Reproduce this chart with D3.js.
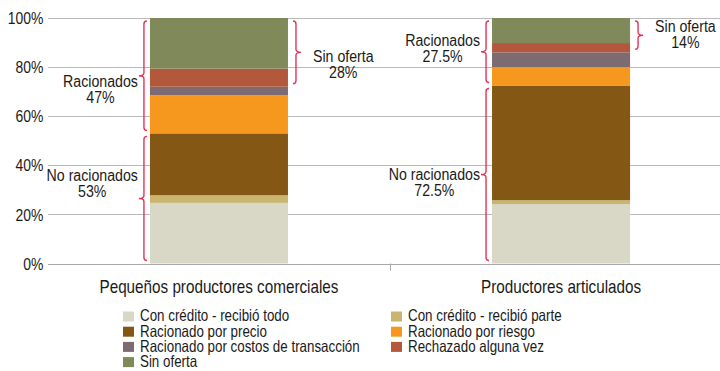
<!DOCTYPE html>
<html>
<head>
<meta charset="utf-8">
<script src="https://cdn.jsdelivr.net/npm/d3@7"></script>
<style>
  html, body { margin: 0; padding: 0; background: #fff; }
  svg { display: block; font-family: "Liberation Sans", Arial, sans-serif; }
  text { fill: #1a1a1a; }
</style>
</head>
<body>
<svg id="chart" width="720" height="371"></svg>
<script>
// Categories (bars)
const categories = ["Pequeños productores comerciales", "Productores articulados"];

// Stack series, bottom to top
const seriesNames = [
  "Con crédito - recibió todo",
  "Con crédito - recibió parte",
  "Racionado por precio",
  "Racionado por riesgo",
  "Racionado por costos de transacción",
  "Rechazado alguna vez",
  "Sin oferta"
];
const seriesColors = ["#d9d8c6", "#c9b56f", "#845715", "#f7981e", "#7e6b72", "#b4583b", "#80895a"];

// Percent shares per category, in series order
const valuesPequenos   = [24.7, 3.1, 25.2, 15.6, 3.4, 7.4, 20.6];
const valuesArticulados = [24.2, 1.6, 46.7, 7.5, 6.0, 3.8, 10.2];

// Y axis ticks
const yTicks = [0, 20, 40, 60, 80, 100];

// Bracket groups: label, first and last series index covered
const groupNames = ["No racionados", "Racionados", "Sin oferta"];
const groupFrom  = [0, 3, 5];
const groupTo    = [2, 6, 6];
const groupSide  = ["left", "left", "right"];

// Label offsets (px) of each bracket label relative to the bracket tip, per category
const labelDy = [
  [-17.5, 11, 9.5],
  [5.5, -6, -3]
];

const values = [valuesPequenos, valuesArticulados];

const svg = d3.select("#chart");
const W = 720;
const margin = { left: 48, top: 18, bottom: 263.5 };
const NARROW = 0.82;   // horizontal squeeze for a condensed sans look

// Text helper: condensed text placed at (x, y) with the given anchor
function label(parent, x, y, str, size, anchor) {
  const g = parent.append("g").attr("transform", `translate(${x},${y}) scale(${NARROW},1)`);
  const t = g.append("text").attr("x", 0).attr("y", 0)
    .attr("text-anchor", anchor || "start")
    .style("font-size", size + "px").text(str);
  return { g, t };
}

const y = d3.scaleLinear().domain([0, 100]).range([margin.bottom, margin.top]);
const x = d3.scaleBand().domain(categories).range([48, 732])
  .paddingInner(0.5965).paddingOuter(0.298);

// Gridlines
svg.append("g").selectAll("line").data(yTicks).join("line")
  .attr("x1", margin.left).attr("x2", W)
  .attr("y1", d => Math.round(y(d)) + 0.5).attr("y2", d => Math.round(y(d)) + 0.5)
  .attr("stroke", "#b9b9b9").attr("stroke-width", 1);

// Y tick labels
const yl = svg.append("g");
yTicks.forEach(d => label(yl, 43.5, y(d) + 6.1, d + "%", 17, "end"));

// Stack the rows
const rows = categories.map((c, i) => {
  const r = { category: c };
  seriesNames.forEach((s, j) => r[s] = values[i][j]);
  return r;
});
const stacked = d3.stack().keys(seriesNames)(rows);

svg.append("g").selectAll("g").data(stacked).join("g")
  .attr("fill", (d, i) => seriesColors[i])
  .selectAll("rect").data(d => d).join("rect")
  .attr("x", d => x(d.data.category))
  .attr("width", x.bandwidth())
  .attr("y", d => y(d[1]))
  .attr("height", d => y(d[0]) - y(d[1]));

// Category axis: baseline, separator tick, labels
svg.append("line")
  .attr("x1", margin.left).attr("x2", W)
  .attr("y1", Math.round(y(0)) + 0.5).attr("y2", Math.round(y(0)) + 0.5)
  .attr("stroke", "#a9a9a9");
const sepX = Math.round(x(categories[1]) - (x.step() - x.bandwidth()) / 2) + 0.5;
svg.append("line")
  .attr("x1", sepX).attr("x2", sepX)
  .attr("y1", y(0)).attr("y2", y(0) + 7)
  .attr("stroke", "#a9a9a9");
const xl = svg.append("g");
categories.forEach(c => label(xl, x(c) + x.bandwidth() / 2, 293, c, 18.6, "middle"));

// Curly brackets
function bracePath(x0, y1, y2, dir) {
  // dir = -1 tip points left, +1 tip points right
  const c = 3, t = 5, ym = (y1 + y2) / 2;
  const e = -dir * c;
  return `M${x0 + e},${y1} Q${x0},${y1} ${x0},${y1 + c}` +
    ` L${x0},${ym - c} Q${x0},${ym} ${x0 + dir * t},${ym}` +
    ` Q${x0},${ym} ${x0},${ym + c}` +
    ` L${x0},${y2 - c} Q${x0},${y2} ${x0 + e},${y2}`;
}

const fmt = v => (+v.toFixed(1)).toString() + "%";
const inset = 3;
const ann = svg.append("g");
categories.forEach((cat, ci) => {
  const bx0 = x(cat), bx1 = x(cat) + x.bandwidth();
  groupNames.forEach((name, gi) => {
    const lo = d3.sum(values[ci].slice(0, groupFrom[gi]));
    const hi = d3.sum(values[ci].slice(0, groupTo[gi] + 1));
    const share = d3.sum(values[ci].slice(groupFrom[gi], groupTo[gi] + 1));
    const y1 = y(hi) + inset, y2 = y(lo) - inset;
    const ym = (y1 + y2) / 2;
    const left = groupSide[gi] === "left";
    const bxLine = left ? bx0 - 6 : bx1 + 8;
    const dir = left ? -1 : 1;
    ann.append("path")
      .attr("d", bracePath(bxLine, y1, y2, dir))
      .attr("fill", "none").attr("stroke", "#e5345a").attr("stroke-width", 1.4);
    const tipX = bxLine + dir * 5;
    const by = ym + labelDy[ci][gi];
    // two-line label: name, then share centred under it
    const { g, t } = label(ann, 0, by, null, 17.3, "middle");
    const s1 = t.append("tspan").attr("x", 0).attr("y", 0).text(name);
    t.append("tspan").attr("x", 0).attr("y", 16).text(fmt(share));
    const w = s1.node().getComputedTextLength() * NARROW;
    const cx = left ? tipX - 1 - w / 2 : tipX + 12 + w / 2;
    g.attr("transform", `translate(${cx},${by}) scale(${NARROW},1)`);
  });
});

// Legend, two columns of swatches and entries
const legCols = [123, 391];
const legRows = [321.5, 336.7, 351.9, 367.1];
const leg = svg.append("g");
seriesNames.forEach((s, i) => {
  const lx = legCols[i % 2], ly = legRows[Math.floor(i / 2)];
  leg.append("rect").attr("x", lx).attr("y", ly - 10).attr("width", 11).attr("height", 10)
    .attr("fill", seriesColors[i]);
});
legCols.forEach((lx, col) => {
  const { t } = label(leg, lx + 17, 0, null, 16.3, "start");
  seriesNames.forEach((s, i) => {
    if (i % 2 !== col) return;
    t.append("tspan").attr("x", 0).attr("y", legRows[Math.floor(i / 2)]).text(s);
  });
});
</script>
</body>
</html>
